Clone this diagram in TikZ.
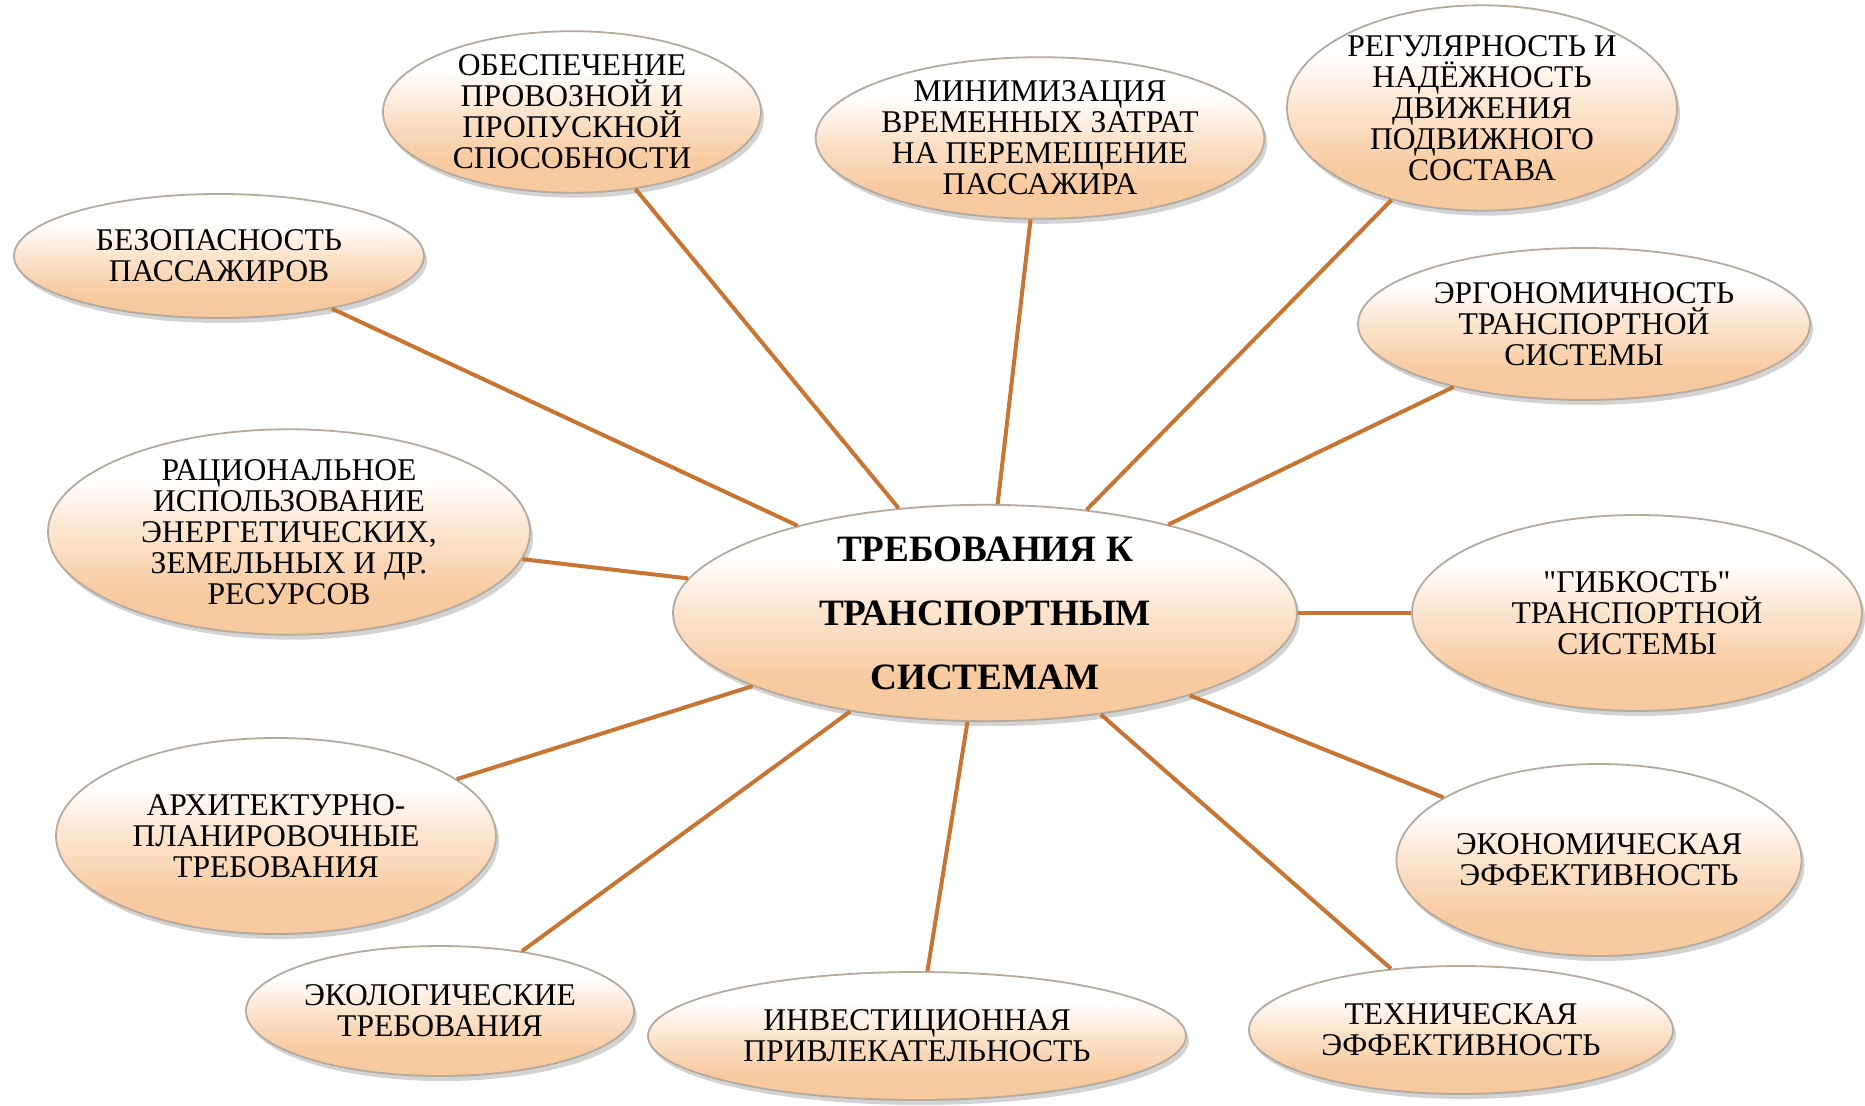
\documentclass[tikz,border=0pt]{standalone}
\usepackage{fontspec}
\setmainfont{Liberation Serif}
\newfontfamily\qfont{Liberation Serif}
\usetikzlibrary{shapes.geometric,shadows}
\definecolor{peachD}{RGB}{248,202,160}
\definecolor{peachM}{RGB}{252,228,205}
\definecolor{linkC}{RGB}{200,116,50}
\definecolor{rimC}{RGB}{180,170,160}
\pgfdeclareverticalshading{peachshade}{100bp}{color(0bp)=(peachD); color(35bp)=(peachD); color(50bp)=(peachM); color(63bp)=(white); color(100bp)=(white)}
\tikzset{
  bubble/.style={ellipse, shading=peachshade, draw=rimC, line width=0.9pt,
    inner sep=0pt, align=center, font=\fontsize{15.8}{15.5}\selectfont,
    drop shadow={shadow xshift=1.5pt, shadow yshift=-2.5pt, opacity=0.35, fill=gray}},
  link/.style={draw=linkC, line width=2pt}
}
\begin{document}
\begin{tikzpicture}[x=0.5pt,y=-0.5pt]
\useasboundingbox (0,0) rectangle (1865,1106);
\node[bubble, minimum width=312pt, minimum height=89pt,
  font=\bfseries\fontsize{18.6}{32}\selectfont] (c) at (985,613) {ТРЕБОВАНИЯ К\\ТРАНСПОРТНЫМ\\СИСТЕМАМ};
\node[bubble, minimum width=205pt, minimum height=62pt] (e1) at (219,256) {БЕЗОПАСНОСТЬ\\ПАССАЖИРОВ};
\node[bubble, minimum width=189pt, minimum height=67pt] (e2) at (572,112) {ОБЕСПЕЧЕНИЕ\\ПРОВОЗНОЙ И\\ПРОПУСКНОЙ\\СПОСОБНОСТИ};
\node[bubble, minimum width=224pt, minimum height=67pt] (e3) at (1040,138) {МИНИМИЗАЦИЯ\\ВРЕМЕННЫХ ЗАТРАТ\\НА ПЕРЕМЕЩЕНИЕ\\ПАССАЖИРА};
\node[bubble, minimum width=195pt, minimum height=96pt] (e4) at (1482,108) {РЕГУЛЯРНОСТЬ И\\НАДЁЖНОСТЬ\\ДВИЖЕНИЯ\\ПОДВИЖНОГО\\СОСТАВА};
\node[bubble, minimum width=226pt, minimum height=76pt] (e5) at (1584,324) {ЭРГОНОМИЧНОСТЬ\\ТРАНСПОРТНОЙ\\СИСТЕМЫ};
\node[bubble, minimum width=225pt, minimum height=98pt] (e6) at (1637,613) {{\qfont"}ГИБКОСТЬ{\qfont"}\\ТРАНСПОРТНОЙ\\СИСТЕМЫ};
\node[bubble, minimum width=195pt, minimum height=96pt] (e7) at (1599,860) {ЭКОНОМИЧЕСКАЯ\\ЭФФЕКТИВНОСТЬ};
\node[bubble, minimum width=212pt, minimum height=64pt] (e8) at (1461,1030) {ТЕХНИЧЕСКАЯ\\ЭФФЕКТИВНОСТЬ};
\node[bubble, minimum width=269pt, minimum height=64pt] (e9) at (917,1036) {ИНВЕСТИЦИОННАЯ\\ПРИВЛЕКАТЕЛЬНОСТЬ};
\node[bubble, minimum width=194pt, minimum height=65pt] (e10) at (440,1011) {ЭКОЛОГИЧЕСКИЕ\\ТРЕБОВАНИЯ};
\node[bubble, minimum width=220pt, minimum height=98pt] (e11) at (276,836) {АРХИТЕКТУРНО-\\ПЛАНИРОВОЧНЫЕ\\ТРЕБОВАНИЯ};
\node[bubble, minimum width=241pt, minimum height=101pt] (e12) at (289,532) {РАЦИОНАЛЬНОЕ\\ИСПОЛЬЗОВАНИЕ\\ЭНЕРГЕТИЧЕСКИХ,\\ЗЕМЕЛЬНЫХ И ДР.\\РЕСУРСОВ};
\foreach \n in {1,...,12} {\draw[link] (c) -- (e\n);}
\end{tikzpicture}
\end{document}
